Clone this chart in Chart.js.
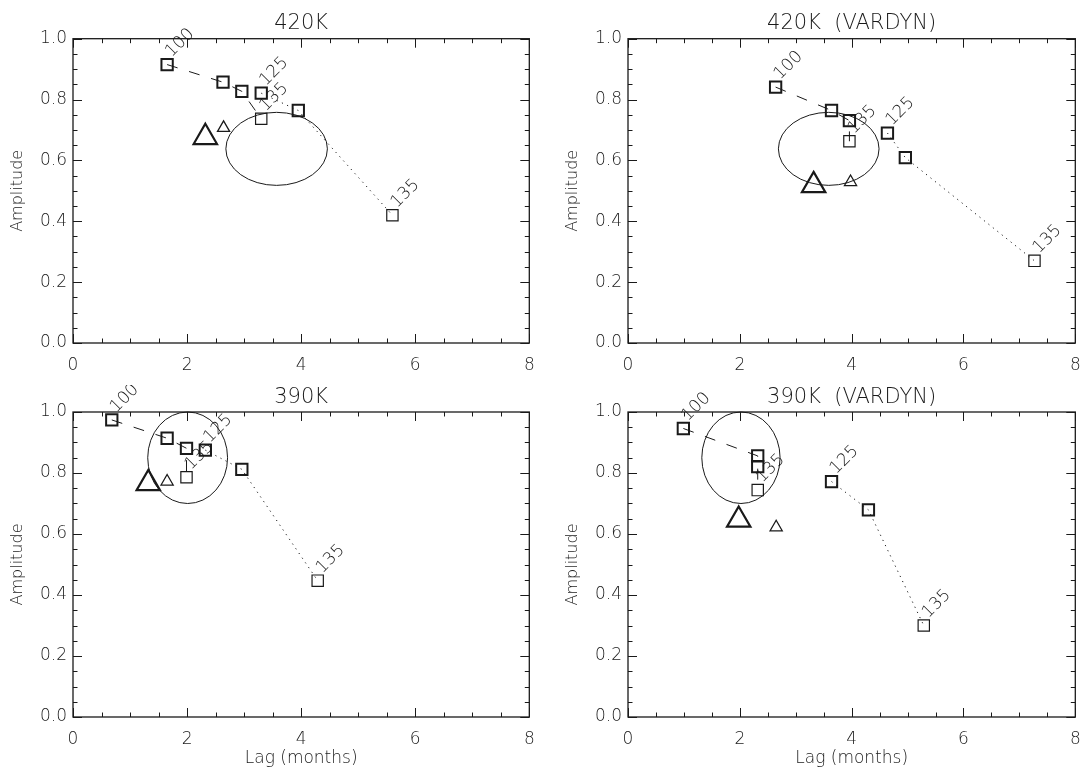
<!DOCTYPE html>
<html lang="en">
<head>
  <meta charset="UTF-8" />
  <title>Amplitude vs Lag</title>
  <script src="https://cdn.jsdelivr.net/npm/chart.js"></script>
  <style>
    body { margin: 0; background: #fff; overflow: hidden; }
    .wrap { position: relative; width: 1091px; height: 769px; }
    canvas { position: absolute; }
  </style>
</head>
<body>
  <div class="wrap">
    <canvas id="c0" width="545" height="385" style="left:0;top:0;width:545px;height:385px"></canvas>
    <canvas id="c1" width="536" height="385" style="left:555px;top:0;width:536px;height:385px"></canvas>
    <canvas id="c2" width="545" height="384" style="left:0;top:385px;width:545px;height:384px"></canvas>
    <canvas id="c3" width="536" height="384" style="left:555px;top:385px;width:536px;height:384px"></canvas>
  </div>

  <script>
    // panels: 420K, 420K (VARDYN), 390K, 390K (VARDYN)
    const panelTitles = ['420K', '420K  (VARDYN)', '390K', '390K  (VARDYN)'];

    // dashed run (labelled 100 ... 135)
    const dashLag = [
      [1.65, 2.63, 2.96, 3.30],
      [2.64, 3.64, 3.96, 3.96],
      [0.68, 1.65, 1.99, 1.99],
      [0.99, 2.32, 2.32, 2.32]
    ];
    const dashAmp = [
      [0.915, 0.857, 0.827, 0.737],
      [0.841, 0.764, 0.731, 0.663],
      [0.974, 0.914, 0.881, 0.786],
      [0.946, 0.856, 0.821, 0.744]
    ];
    const dashLabels = ['100', '135'];

    // dotted run (labelled 125 ... 135)
    const dotLag = [
      [3.30, 3.95, 5.60],
      [4.64, 4.96, 7.27],
      [2.32, 2.96, 4.29],
      [3.64, 4.30, 5.29]
    ];
    const dotAmp = [
      [0.821, 0.764, 0.420],
      [0.690, 0.609, 0.270],
      [0.875, 0.812, 0.447],
      [0.772, 0.679, 0.300]
    ];
    const dotLabels = ['125', '135'];

    // triangles: [big, small]
    const triLag = [[2.32, 2.64], [3.32, 3.98], [1.32, 1.65], [1.98, 2.65]];
    const triAmp = [[0.676, 0.707], [0.518, 0.529], [0.766, 0.772], [0.646, 0.622]];

    // ellipse: centre lag, centre amp, half-width (lag), half-height (amp)
    const ellLag = [3.57, 3.59, 2.01, 2.02];
    const ellAmp = [0.638, 0.638, 0.850, 0.850];
    const ellHalfLag = [0.89, 0.90, 0.70, 0.70];
    const ellHalfAmp = [0.120, 0.120, 0.150, 0.150];

    const xTicks = [0, 2, 4, 6, 8];
    const yTicks = [0, 0.2, 0.4, 0.6, 0.8, 1.0];

    const ink = '#1a1a1a';
    const fontFam = "'DejaVu Sans', sans-serif";
    Chart.defaults.font.family = fontFam;
    Chart.defaults.font.weight = '300';
    Chart.defaults.color = ink;

    const pts = (xs, ys) => xs.map((x, i) => ({ x: x, y: ys[i] }));

    // ellipse, IDL-like frame with inward ticks, rotated point labels
    const framePlugin = {
      id: 'frame',
      beforeDatasetsDraw(chart) {
        const k = chart.options.plugins.frame.panel;
        const { ctx, scales } = chart;
        const sx = scales.x, sy = scales.y;
        const cx = sx.getPixelForValue(ellLag[k]);
        const cy = sy.getPixelForValue(ellAmp[k]);
        const rx = Math.abs(sx.getPixelForValue(ellLag[k] + ellHalfLag[k]) - cx);
        const ry = Math.abs(sy.getPixelForValue(ellAmp[k] + ellHalfAmp[k]) - cy);
        ctx.save();
        ctx.strokeStyle = ink;
        ctx.lineWidth = 1;
        ctx.beginPath();
        ctx.ellipse(cx, cy, rx, ry, 0, 0, Math.PI * 2);
        ctx.stroke();
        ctx.restore();
      },
      afterDraw(chart) {
        const { ctx, chartArea: a, scales } = chart;
        const sx = scales.x, sy = scales.y;
        ctx.save();
        ctx.strokeStyle = ink;
        ctx.lineWidth = 1.3;
        ctx.strokeRect(a.left, a.top, a.right - a.left, a.bottom - a.top);
        ctx.lineWidth = 1;
        ctx.beginPath();
        for (let i = 0; i <= 16; i++) {
          const px = Math.round(sx.getPixelForValue(i * 0.5)) + 0.5;
          const len = i % 4 === 0 ? 9 : 4.5;
          ctx.moveTo(px, a.bottom); ctx.lineTo(px, a.bottom - len);
          ctx.moveTo(px, a.top); ctx.lineTo(px, a.top + len);
        }
        for (let i = 0; i <= 20; i++) {
          const py = Math.round(sy.getPixelForValue(i * 0.05)) + 0.5;
          const len = i % 4 === 0 ? 9 : 4.5;
          ctx.moveTo(a.left, py); ctx.lineTo(a.left + len, py);
          ctx.moveTo(a.right, py); ctx.lineTo(a.right - len, py);
        }
        ctx.stroke();
        ctx.restore();
      },
      afterDatasetsDraw(chart) {
        const { ctx } = chart;
        ctx.save();
        ctx.fillStyle = ink;
        ctx.font = '300 17px ' + fontFam;
        ctx.textAlign = 'left';
        ctx.textBaseline = 'alphabetic';
        [[0, dashLabels], [1, dotLabels]].forEach(([di, labs]) => {
          const els = chart.getDatasetMeta(di).data;
          [els[0], els[els.length - 1]].forEach((el, j) => {
            ctx.save();
            ctx.translate(el.x + 4.5, el.y - 7);
            ctx.rotate(-Math.PI / 4);
            ctx.fillText(labs[j], 0, 0);
            ctx.restore();
          });
        });
        ctx.restore();
      }
    };

    function makeChart(k) {
      const bottomRow = k >= 2;
      const canvas = document.getElementById('c' + k);
      const W = canvas.width, H = canvas.height;
      const plotRight = k % 2 === 0 ? 531 : 1083 - 555;
      return new Chart(canvas, {
        type: 'scatter',
        data: {
          datasets: [
            {
              data: pts(dashLag[k], dashAmp[k]),
              showLine: true,
              borderColor: ink,
              borderWidth: 1,
              borderDash: [11, 12],
              pointStyle: 'rect',
              pointRadius: 8,
              pointBorderWidth: [2, 2, 2, 1.2],
              pointBorderColor: ink,
              pointBackgroundColor: 'rgba(0,0,0,0)'
            },
            {
              data: pts(dotLag[k], dotAmp[k]),
              showLine: true,
              borderColor: ink,
              borderWidth: 1,
              borderDash: [1.2, 4.5],
              pointStyle: 'rect',
              pointRadius: 8,
              pointBorderWidth: [2, 2, 1.2],
              pointBorderColor: ink,
              pointBackgroundColor: 'rgba(0,0,0,0)'
            },
            {
              data: pts(triLag[k], triAmp[k]),
              showLine: false,
              pointStyle: 'triangle',
              pointRadius: [13.5, 7],
              pointBorderWidth: [2.2, 1.3],
              pointBorderColor: ink,
              pointBackgroundColor: 'rgba(0,0,0,0)'
            }
          ]
        },
        options: {
          responsive: false,
          animation: false,
          layout: { padding: { left: 0, right: W - plotRight, top: 0, bottom: 0 } },
          plugins: {
            legend: { display: false },
            tooltip: { enabled: false },
            title: {
              display: true,
              text: panelTitles[k],
              fullSize: false,
              color: ink,
              font: { size: 21, weight: '300', lineHeight: 1.2 },
              padding: bottomRow ? { top: 0, bottom: 27 - 25.2 } : { top: 11, bottom: 38.7 - 11 - 25.2 }
            },
            frame: { panel: k }
          },
          scales: {
            x: {
              type: 'linear',
              min: 0, max: 8,
              afterBuildTicks: s => { s.ticks = xTicks.map(v => ({ value: v })); },
              afterFit: s => {
                s.height = bottomRow ? H - (717 - 385) : H - 343;
                s.paddingLeft = 0; s.paddingRight = 0;
              },
              grid: { display: false, drawTicks: false },
              border: { display: false },
              ticks: { padding: 12, font: { size: 17 }, color: ink, callback: v => String(v) },
              title: {
                display: bottomRow,
                text: 'Lag (months)',
                color: ink,
                font: { size: 17 },
                padding: { top: 0, bottom: 0 }
              }
            },
            y: {
              type: 'linear',
              min: 0, max: 1,
              afterBuildTicks: s => { s.ticks = yTicks.map(v => ({ value: v })); },
              afterFit: s => {
                s.width = (k % 2 === 0 ? 73 : 628 - 555);
                s.paddingTop = 0; s.paddingBottom = 0;
              },
              grid: { display: false, drawTicks: false },
              border: { display: false },
              ticks: { padding: 6, font: { size: 17 }, color: ink, callback: v => v.toFixed(1) },
              title: {
                display: true,
                text: 'Amplitude',
                color: ink,
                font: { size: 16 },
                padding: { top: 8, bottom: 0 }
              }
            }
          }
        },
        plugins: [framePlugin]
      });
    }

    [0, 1, 2, 3].forEach(makeChart);
  </script>
</body>
</html>
